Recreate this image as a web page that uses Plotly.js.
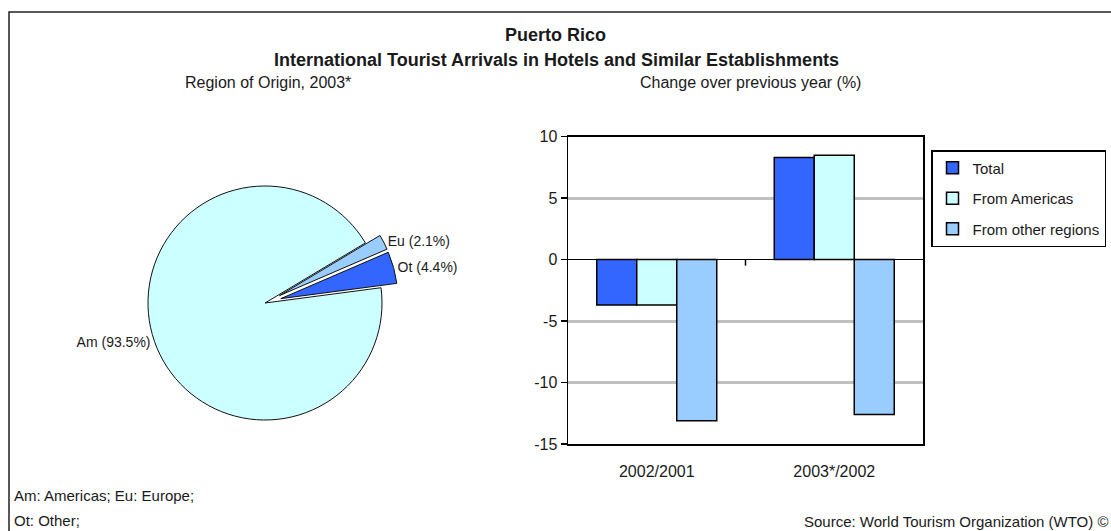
<!DOCTYPE html>
<html>
<head>
<meta charset="utf-8">
<script src="https://cdn.plot.ly/plotly-3.0.1.min.js"></script>
<style>
  html, body { margin: 0; padding: 0; background: #ffffff; }
  #chart { width: 1111px; height: 531px; }
</style>
</head>
<body>
<div id="chart"></div>
<script>
// ---- Data ----
const pieLabels = ['Am', 'Eu', 'Ot'];
const pieValues = [93.5, 2.1, 4.4];

const periods = ['2002/2001', '2003*/2002'];
const seriesNames = ['Total', 'From Americas', 'From other regions'];
const totalChange = [-3.7, 8.3];
const americasChange = [-3.7, 8.5];
const otherChange = [-13.1, -12.6];

const yTickVals = [-15, -10, -5, 0, 5, 10];
const yTickText = ['-15', '-10', '-5', '0', '5', '10'];

// ---- Layout helpers (pixel -> paper) ----
const W = 1111, H = 531;
const px = x => x / W;
const py = y => 1 - y / H;

const FONT = 'Liberation Sans, Arial, sans-serif';
const TXT = '#1a1a1a';

const pieColors = ['#CCFFFF', '#99CCFF', '#3366FF'];
const barColors = ['#3366FF', '#CCFFFF', '#99CCFF'];
const seriesValues = [totalChange, americasChange, otherChange];

const traces = [];

traces.push({
  type: 'pie',
  labels: pieLabels,
  values: pieValues,
  sort: false,
  direction: 'clockwise',
  rotation: 82.5,
  pull: [0, 0.14, 0.14],
  marker: { colors: pieColors, line: { color: '#111111', width: 1 } },
  textposition: 'outside',
  texttemplate: '%{label} (%{value}%)',
  textfont: { family: FONT, size: 14, color: TXT },
  showlegend: false,
  hoverinfo: 'label+value',
  domain: { x: [px(131.6), px(398.4)], y: [py(436.4), py(169.6)] }
});

for (let i = 0; i < seriesNames.length; i++) {
  traces.push({
    type: 'bar',
    name: seriesNames[i],
    x: periods,
    y: seriesValues[i],
    xaxis: 'x',
    yaxis: 'y',
    legendgroup: 'g' + i,
    marker: { color: barColors[i], line: { color: '#000000', width: 1.5 } }
  });
}

const layout = {
  width: W,
  height: H,
  margin: { l: 0, r: 0, t: 0, b: 0 },
  paper_bgcolor: '#ffffff',
  plot_bgcolor: '#ffffff',
  font: { family: FONT, color: TXT },
  title: {
    text: '<b>Puerto Rico</b>',
    font: { family: FONT, size: 18, color: TXT },
    x: 0.5, xanchor: 'center',
    y: 1 - 35 / H, yanchor: 'middle', yref: 'container'
  },
  barmode: 'group',
  bargap: 0.324,
  bargroupgap: 0,
  xaxis: {
    domain: [px(568), px(923)],
    anchor: 'y',
    showline: true, linecolor: '#000000', linewidth: 1.5, mirror: true,
    showgrid: false, zeroline: false,
    ticks: '',
    ticklabelstandoff: 12,
    tickfont: { family: FONT, size: 16, color: TXT }
  },
  yaxis: {
    domain: [py(444), py(136.7)],
    anchor: 'x',
    range: [-15, 10],
    tickvals: yTickVals,
    ticktext: yTickText,
    showline: true, linecolor: '#000000', linewidth: 1.5, mirror: true,
    ticks: 'outside', ticklen: 6, tickcolor: '#000000', tickwidth: 1.5,
    showgrid: true, gridcolor: '#C0C0C0', gridwidth: 3,
    zeroline: true, zerolinecolor: '#000000', zerolinewidth: 1.5,
    tickfont: { family: FONT, size: 16, color: TXT }
  },
  legend: {
    x: px(931), xanchor: 'left',
    y: py(150), yanchor: 'top',
    bgcolor: '#ffffff',
    bordercolor: '#000000', borderwidth: 1.5,
    font: { family: FONT, size: 15, color: TXT },
    tracegroupgap: 8,
    itemwidth: 30
  },
  shapes: [
    { type: 'rect', xref: 'paper', yref: 'paper',
      x0: px(9), x1: px(1130), y0: py(560), y1: py(12),
      line: { color: '#222222', width: 1.5 }, fillcolor: 'rgba(0,0,0,0)', layer: 'below' },
    { type: 'line', xref: 'x', yref: 'y', ysizemode: 'pixel', yanchor: 0,
      x0: 0.5, x1: 0.5, y0: 0, y1: -6,
      line: { color: '#000000', width: 1.5 } }
  ],
  annotations: [
    { text: '<b>International Tourist Arrivals in Hotels and Similar Establishments</b>',
      xref: 'paper', yref: 'paper', x: px(556), y: py(60), xanchor: 'center', yanchor: 'middle',
      showarrow: false, font: { family: FONT, size: 18, color: TXT } },
    { text: 'Region of Origin, 2003*',
      xref: 'paper', yref: 'paper', x: px(268), y: py(83), xanchor: 'center', yanchor: 'middle',
      showarrow: false, font: { family: FONT, size: 16, color: TXT } },
    { text: 'Change over previous year (%)',
      xref: 'paper', yref: 'paper', x: px(750), y: py(83), xanchor: 'center', yanchor: 'middle',
      showarrow: false, font: { family: FONT, size: 16, color: TXT } },
    { text: 'Am: Americas; Eu: Europe;',
      xref: 'paper', yref: 'paper', x: px(12), y: py(495), xanchor: 'left', yanchor: 'middle',
      showarrow: false, font: { family: FONT, size: 15, color: TXT } },
    { text: 'Ot: Other;',
      xref: 'paper', yref: 'paper', x: px(12), y: py(520), xanchor: 'left', yanchor: 'middle',
      showarrow: false, font: { family: FONT, size: 15, color: TXT } },
    { text: 'Source: World Tourism Organization (WTO) ©',
      xref: 'paper', yref: 'paper', x: px(802), y: py(521), xanchor: 'left', yanchor: 'middle',
      showarrow: false, font: { family: FONT, size: 15, color: TXT } }
  ]
};

Plotly.newPlot('chart', traces, layout, { displayModeBar: false, staticPlot: true });
</script>
</body>
</html>
